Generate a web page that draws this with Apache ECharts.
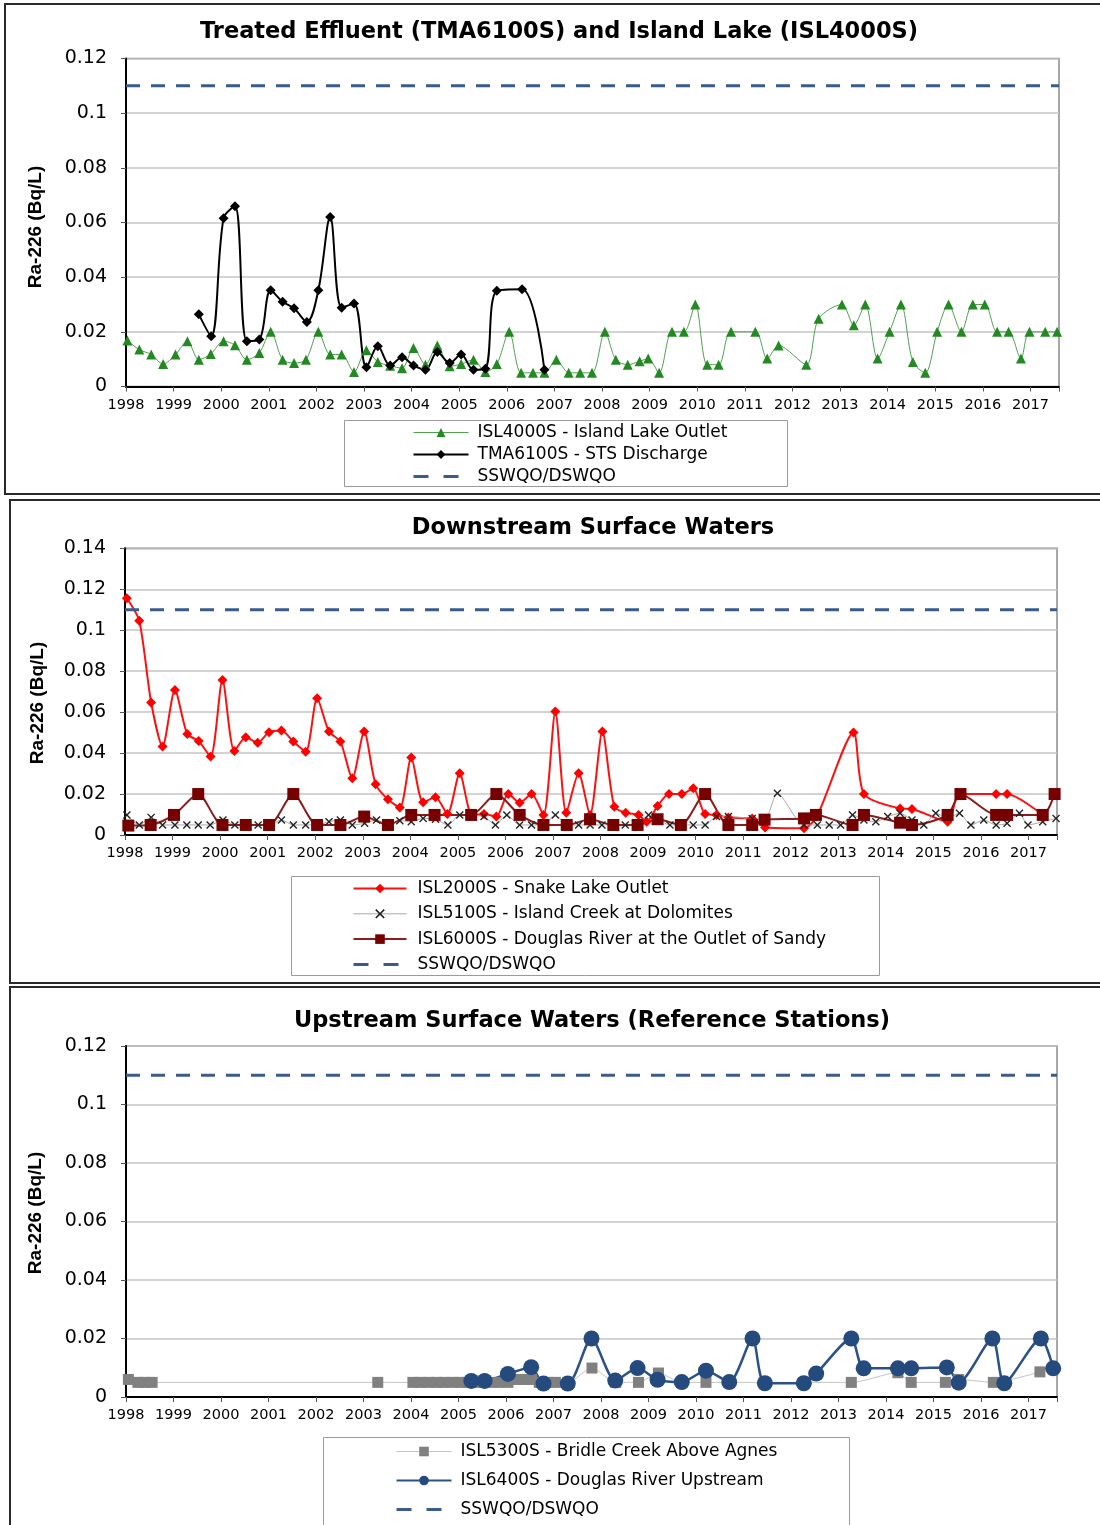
<!DOCTYPE html>
<html>
<head>
<meta charset="utf-8">
<script src="https://cdn.jsdelivr.net/npm/echarts@6/dist/echarts.min.js"></script>
<style>
html,body{margin:0;padding:0;background:#fff;}
#c{width:1100px;height:1525px;}
</style>
</head>
<body>
<div id="c"></div>
<script>
// ---------- data ----------
var xMin = 1998, xMax = 2017.6;
var guideline = 0.11;
var guideSeries = [[1998, guideline], [2017.6, guideline]];

var titles = [
  'Treated Effluent (TMA6100S) and Island Lake (ISL4000S)',
  'Downstream Surface Waters',
  'Upstream Surface Waters (Reference Stations)'
];
var yName = 'Ra-226 (Bq/L)';
var nameGuide = 'SSWQO/DSWQO';
var name4000 = 'ISL4000S - Island Lake Outlet';
var name6100 = 'TMA6100S - STS Discharge';
var name2000 = 'ISL2000S - Snake Lake Outlet';
var name5100 = 'ISL5100S - Island Creek at Dolomites';
var name6000 = 'ISL6000S - Douglas River at the Outlet of Sandy';
var name5300 = 'ISL5300S - Bridle Creek Above Agnes';
var name6400 = 'ISL6400S - Douglas River Upstream';

var isl4000 = [[1998.03,0.0168],[1998.28,0.0135],[1998.53,0.0117],[1998.78,0.0082],[1999.04,0.0117],[1999.29,0.0166],[1999.53,0.0098],[1999.78,0.0119],[2000.05,0.0166],[2000.29,0.0151],[2000.54,0.0098],[2000.80,0.0123],[2001.04,0.020],[2001.29,0.0098],[2001.53,0.0086],[2001.78,0.0098],[2002.04,0.020],[2002.29,0.0117],[2002.53,0.0117],[2002.79,0.0053],[2003.05,0.0133],[2003.29,0.009],[2003.55,0.0076],[2003.80,0.0067],[2004.04,0.0141],[2004.29,0.008],[2004.54,0.015],[2004.80,0.0074],[2005.04,0.0082],[2005.30,0.0098],[2005.55,0.0053],[2005.79,0.0082],[2006.05,0.020],[2006.30,0.005],[2006.55,0.005],[2006.79,0.005],[2007.04,0.0098],[2007.30,0.005],[2007.54,0.005],[2007.79,0.005],[2008.06,0.020],[2008.29,0.0098],[2008.54,0.008],[2008.79,0.0092],[2008.97,0.0102],[2009.20,0.005],[2009.47,0.020],[2009.72,0.020],[2009.96,0.030],[2010.21,0.008],[2010.45,0.008],[2010.71,0.020],[2011.22,0.020],[2011.47,0.0102],[2011.71,0.015],[2012.29,0.008],[2012.55,0.0248],[2013.04,0.030],[2013.29,0.0224],[2013.53,0.030],[2013.79,0.0102],[2014.04,0.020],[2014.28,0.030],[2014.53,0.009],[2014.79,0.005],[2015.04,0.020],[2015.28,0.030],[2015.55,0.020],[2015.79,0.030],[2016.04,0.030],[2016.30,0.020],[2016.54,0.020],[2016.80,0.0102],[2016.98,0.020],[2017.31,0.020],[2017.56,0.020]];

var tma6100 = [[1999.53,0.0264],[1999.79,0.0184],[2000.05,0.0616],[2000.29,0.0659],[2000.54,0.0166],[2000.80,0.0172],[2001.04,0.0352],[2001.29,0.031],[2001.53,0.0286],[2001.80,0.0236],[2002.04,0.0352],[2002.29,0.062],[2002.53,0.0288],[2002.79,0.0304],[2003.05,0.007],[2003.29,0.0147],[2003.55,0.0077],[2003.80,0.0107],[2004.04,0.0077],[2004.29,0.0061],[2004.54,0.0126],[2004.80,0.0086],[2005.04,0.0117],[2005.30,0.0061],[2005.55,0.0065],[2005.79,0.035],[2006.32,0.0356],[2006.79,0.0061]];

var isl2000 = [[1998.04,0.1156],[1998.30,0.1046],[1998.55,0.0647],[1998.79,0.0432],[1999.05,0.0708],[1999.31,0.0493],[1999.55,0.0459],[1999.80,0.0383],[2000.05,0.0757],[2000.30,0.041],[2000.54,0.0477],[2000.79,0.0451],[2001.03,0.0502],[2001.29,0.051],[2001.54,0.0456],[2001.80,0.0407],[2002.04,0.0668],[2002.29,0.0505],[2002.53,0.0456],[2002.78,0.0277],[2003.03,0.0505],[2003.27,0.0248],[2003.53,0.0174],[2003.78,0.0134],[2004.02,0.0378],[2004.27,0.016],[2004.53,0.0184],[2004.78,0.0103],[2005.04,0.0301],[2005.30,0.0098],[2005.55,0.0103],[2005.81,0.009],[2006.06,0.020],[2006.30,0.0158],[2006.55,0.020],[2006.80,0.0098],[2007.05,0.0603],[2007.28,0.0109],[2007.54,0.0301],[2007.78,0.0098],[2008.04,0.0505],[2008.29,0.0138],[2008.53,0.0109],[2008.80,0.0098],[2008.97,0.0065],[2009.20,0.0142],[2009.44,0.020],[2009.71,0.020],[2009.95,0.0228],[2010.20,0.0103],[2010.44,0.0098],[2010.69,0.0085],[2011.19,0.0081],[2011.46,0.0037],[2012.28,0.0033],[2012.55,0.009],[2013.32,0.050],[2013.54,0.020],[2014.30,0.013],[2014.55,0.0127],[2015.30,0.0065],[2015.55,0.020],[2016.32,0.020],[2016.55,0.020],[2017.30,0.0098]];

var isl5100 = [[1998.04,0.0098],[1998.30,0.0049],[1998.55,0.0086],[1998.79,0.0049],[1999.05,0.0049],[1999.30,0.0049],[1999.54,0.0049],[1999.79,0.0049],[2000.06,0.0073],[2000.31,0.0049],[2000.56,0.0049],[2000.80,0.0049],[2001.03,0.0049],[2001.29,0.0073],[2001.54,0.0049],[2001.80,0.0049],[2002.04,0.0049],[2002.29,0.0065],[2002.53,0.0073],[2002.78,0.0049],[2003.04,0.0057],[2003.29,0.0073],[2003.53,0.0049],[2003.78,0.007],[2004.02,0.0065],[2004.27,0.0081],[2004.53,0.0077],[2004.79,0.0049],[2005.04,0.0098],[2005.55,0.009],[2005.79,0.0049],[2006.03,0.0098],[2006.30,0.0049],[2006.55,0.0049],[2006.80,0.0049],[2007.05,0.0098],[2007.30,0.0049],[2007.54,0.0049],[2007.78,0.0049],[2008.03,0.0049],[2008.29,0.0049],[2008.52,0.0049],[2008.78,0.0049],[2009.01,0.0098],[2009.20,0.0077],[2009.46,0.0049],[2009.71,0.0049],[2009.95,0.0049],[2010.20,0.0049],[2010.44,0.009],[2010.69,0.009],[2011.19,0.008],[2011.45,0.0073],[2011.72,0.0204],[2012.28,0.0049],[2012.56,0.0049],[2012.81,0.0049],[2013.05,0.0049],[2013.30,0.0098],[2013.54,0.0073],[2013.79,0.0065],[2014.04,0.009],[2014.30,0.0106],[2014.55,0.0073],[2014.80,0.0049],[2015.05,0.0106],[2015.30,0.0085],[2015.55,0.0106],[2015.79,0.0049],[2016.06,0.0073],[2016.32,0.0049],[2016.55,0.0057],[2016.81,0.0106],[2016.99,0.0049],[2017.30,0.0065],[2017.58,0.0081]];

var isl6000 = [[1998.07,0.0046],[1998.54,0.0049],[1999.03,0.0098],[1999.54,0.020],[2000.05,0.0049],[2000.54,0.0049],[2001.03,0.0049],[2001.54,0.020],[2002.04,0.0049],[2002.53,0.0049],[2003.03,0.009],[2003.53,0.0049],[2004.02,0.0098],[2004.51,0.0098],[2005.28,0.0098],[2005.81,0.020],[2006.30,0.0098],[2006.80,0.0049],[2007.29,0.0049],[2007.78,0.0077],[2008.27,0.0049],[2008.78,0.0049],[2009.20,0.0077],[2009.69,0.0049],[2010.20,0.020],[2010.69,0.0049],[2011.19,0.0049],[2011.45,0.0075],[2012.28,0.0081],[2012.53,0.0098],[2013.30,0.0049],[2013.54,0.0098],[2014.30,0.006],[2014.55,0.0049],[2015.30,0.0098],[2015.57,0.020],[2016.32,0.0098],[2016.55,0.0098],[2017.30,0.0098],[2017.55,0.020]];

var isl5300 = [[1998.05,0.006],[1998.25,0.005],[1998.40,0.005],[1998.55,0.005],[2003.30,0.005],[2004.04,0.005],[2004.20,0.005],[2004.37,0.005],[2004.54,0.005],[2004.70,0.005],[2004.87,0.005],[2005.04,0.005],[2005.20,0.005],[2005.37,0.005],[2005.54,0.005],[2005.70,0.005],[2005.87,0.005],[2006.04,0.005],[2006.20,0.006],[2006.37,0.006],[2006.54,0.006],[2006.70,0.005],[2006.87,0.005],[2007.04,0.005],[2007.30,0.005],[2007.81,0.0099],[2008.31,0.005],[2008.79,0.005],[2009.21,0.0082],[2009.70,0.005],[2010.21,0.005],[2010.70,0.005],[2011.45,0.005],[2012.27,0.005],[2013.27,0.005],[2014.25,0.0083],[2014.53,0.005],[2015.25,0.005],[2015.53,0.006],[2016.26,0.005],[2017.24,0.0086]];

var isl6400 = [[2005.27,0.0055],[2005.55,0.0055],[2006.04,0.0079],[2006.53,0.0102],[2006.79,0.0046],[2007.30,0.0046],[2007.80,0.020],[2008.30,0.0056],[2008.77,0.0099],[2009.19,0.0059],[2009.70,0.0051],[2010.21,0.009],[2010.70,0.0051],[2011.19,0.020],[2011.45,0.0047],[2012.27,0.0047],[2012.53,0.008],[2013.27,0.020],[2013.53,0.0098],[2014.25,0.0098],[2014.53,0.0098],[2015.28,0.0101],[2015.53,0.0049],[2016.24,0.020],[2016.49,0.0047],[2017.26,0.020],[2017.52,0.0098]];

// ---------- styling ----------
var FONT = '"DejaVu Sans", Verdana, sans-serif';
var crossPath = 'path://M0,1.2 L1.2,0 L5,3.8 L8.8,0 L10,1.2 L6.2,5 L10,8.8 L8.8,10 L5,6.2 L1.2,10 L0,8.8 L3.8,5 Z';
var guideColor = '#3b5b8c';

function xAxisFor(i){
  return {
    type:'value', gridIndex:i, min:xMin, max:xMax, interval:1,
    axisLine:{show:true, onZero:false, lineStyle:{color:'#000', width:2}},
    axisTick:{show:true, length:5, lineStyle:{color:'#555', width:1}},
    axisLabel:{color:'#000', fontFamily:FONT, fontSize:14.5, margin:11,
      formatter:function(v){ return (Math.abs(v - Math.round(v))<1e-6) ? String(Math.round(v)) : ''; }},
    splitLine:{show:false}
  };
}
function yAxisFor(i, max){
  return {
    type:'value', gridIndex:i, min:0, max:max, interval:0.02,
    axisLine:{show:true, lineStyle:{color:'#000', width:2}},
    axisTick:{show:true, length:5, lineStyle:{color:'#555', width:1}},
    axisLabel:{color:'#000', fontFamily:FONT, fontSize:19, margin:19,
      formatter:function(v){ return String(parseFloat(v.toFixed(4))); }},
    splitLine:{show:true, lineStyle:{color:'#c4c4c4', width:1.5}}
  };
}
function guide(i){
  return {name:nameGuide, type:'line', xAxisIndex:i, yAxisIndex:i, data:guideSeries,
    symbol:'none', silent:true, color:guideColor,
    lineStyle:{color:guideColor, width:3, type:[14,11]}, z:5};
}
var guideLegendItem = {name:nameGuide, itemStyle:{opacity:0}, lineStyle:{width:3, type:[15,15]}};
var legendText = {fontFamily:FONT, fontSize:17, color:'#000', padding:[0,0,0,4]};

var gridBorder = '#8a8a8a';
var option = {
  animation:false,
  backgroundColor:'#fff',
  grid:[
    {left:126, top:58.5, width:933, height:328, show:true, borderColor:gridBorder, borderWidth:1.5, backgroundColor:'#fff'},
    {left:125, top:548.3, width:932, height:286.7, show:true, borderColor:gridBorder, borderWidth:1.5, backgroundColor:'#fff'},
    {left:126, top:1046, width:931, height:351, show:true, borderColor:gridBorder, borderWidth:1.5, backgroundColor:'#fff'}
  ],
  xAxis:[xAxisFor(0), xAxisFor(1), xAxisFor(2)],
  yAxis:[yAxisFor(0,0.12), yAxisFor(1,0.14), yAxisFor(2,0.12)],
  legend:[
    {left:412, top:424, width:400, height:80, orient:'vertical', padding:0, itemWidth:55, itemHeight:11, itemGap:5,
     textStyle:legendText,
     data:[{name:name4000, lineStyle:{width:1}}, {name:name6100, lineStyle:{width:2}}, guideLegendItem]},
    {left:352, top:880, width:520, height:110, orient:'vertical', padding:0, itemWidth:53, itemHeight:12, itemGap:8.3,
     textStyle:{fontFamily:FONT, fontSize:17, color:'#000', padding:[0,0,0,6]},
     data:[{name:name2000, lineStyle:{width:2}}, {name:name5100, lineStyle:{width:1}}, {name:name6000, lineStyle:{width:2}}, guideLegendItem]},
    {left:395, top:1443, width:440, height:120, orient:'vertical', padding:0, itemWidth:55, itemHeight:12, itemGap:12,
     textStyle:legendText,
     data:[{name:name5300, lineStyle:{width:1}}, {name:name6400, lineStyle:{width:2}}, guideLegendItem]}
  ],
  series:[
    {name:name4000, type:'line', xAxisIndex:0, yAxisIndex:0, data:isl4000, smooth:0.3,
     symbol:'triangle', symbolSize:10, color:'#238a23',
     lineStyle:{color:'#4f9f4f', width:1}, itemStyle:{color:'#238a23'}},
    {name:name6100, type:'line', xAxisIndex:0, yAxisIndex:0, data:tma6100, smooth:0.35,
     symbol:'diamond', symbolSize:10, color:'#000',
     lineStyle:{color:'#000', width:2}, itemStyle:{color:'#000'}},
    guide(0),

    {name:name2000, type:'line', xAxisIndex:1, yAxisIndex:1, data:isl2000, smooth:0.25,
     symbol:'diamond', symbolSize:10, color:'#ff0000',
     lineStyle:{color:'#ff1010', width:2}, itemStyle:{color:'#ff0000'}},
    {name:name5100, type:'line', xAxisIndex:1, yAxisIndex:1, data:isl5100, smooth:0.25,
     symbol:crossPath, symbolSize:8, color:'#222',
     lineStyle:{color:'#a8a8a8', width:1}, itemStyle:{color:'#222'}},
    {name:name6000, type:'line', xAxisIndex:1, yAxisIndex:1, data:isl6000, smooth:0.25,
     symbol:'rect', symbolSize:12, color:'#760000',
     lineStyle:{color:'#8b1c1c', width:2}, itemStyle:{color:'#760000'}},
    guide(1),

    {name:name5300, type:'line', xAxisIndex:2, yAxisIndex:2, data:isl5300, smooth:0.25,
     symbol:'rect', symbolSize:11, color:'#808080',
     lineStyle:{color:'#c4c4c4', width:1}, itemStyle:{color:'#808080'}},
    {name:name6400, type:'line', xAxisIndex:2, yAxisIndex:2, data:isl6400, smooth:0.25,
     symbol:'circle', symbolSize:16, color:'#254a7d',
     lineStyle:{color:'#2c5189', width:2.5}, itemStyle:{color:'#254a7d'}},
    guide(2)
  ],
  graphic:[
    // panel frames
    {type:'rect', shape:{x:5, y:4, width:1110, height:490}, style:{fill:'none', stroke:'#2a2a2a', lineWidth:2}, silent:true},
    {type:'rect', shape:{x:10, y:500, width:1110, height:483}, style:{fill:'none', stroke:'#2a2a2a', lineWidth:2}, silent:true},
    {type:'rect', shape:{x:10, y:987, width:1110, height:560}, style:{fill:'none', stroke:'#2a2a2a', lineWidth:2}, silent:true},
    // legend boxes
    {type:'rect', shape:{x:344.5, y:420.5, width:443, height:66}, style:{fill:'none', stroke:'#9a9a9a', lineWidth:1}, silent:true},
    {type:'rect', shape:{x:291.5, y:876.5, width:588, height:99}, style:{fill:'none', stroke:'#9a9a9a', lineWidth:1}, silent:true},
    {type:'rect', shape:{x:323.5, y:1437.5, width:526, height:100}, style:{fill:'none', stroke:'#9a9a9a', lineWidth:1}, silent:true},
    // titles
    {type:'text', x:559, y:32, silent:true, style:{text:titles[0], font:'bold 22.5px ' + FONT, fill:'#000', align:'center', verticalAlign:'middle', textAlign:'center', textVerticalAlign:'middle'}},
    {type:'text', x:593, y:528, silent:true, style:{text:titles[1], font:'bold 22.5px ' + FONT, fill:'#000', align:'center', verticalAlign:'middle', textAlign:'center', textVerticalAlign:'middle'}},
    {type:'text', x:592, y:1021, silent:true, style:{text:titles[2], font:'bold 22.5px ' + FONT, fill:'#000', align:'center', verticalAlign:'middle', textAlign:'center', textVerticalAlign:'middle'}},
    // y axis names
    {type:'text', x:36, y:227, rotation:Math.PI/2, silent:true, style:{text:yName, font:'bold 19px "Liberation Sans", Arial, sans-serif', fill:'#000', align:'center', verticalAlign:'middle', textAlign:'center', textVerticalAlign:'middle'}},
    {type:'text', x:38, y:703, rotation:Math.PI/2, silent:true, style:{text:yName, font:'bold 19px "Liberation Sans", Arial, sans-serif', fill:'#000', align:'center', verticalAlign:'middle', textAlign:'center', textVerticalAlign:'middle'}},
    {type:'text', x:36, y:1213, rotation:Math.PI/2, silent:true, style:{text:yName, font:'bold 19px "Liberation Sans", Arial, sans-serif', fill:'#000', align:'center', verticalAlign:'middle', textAlign:'center', textVerticalAlign:'middle'}}
  ]
};

var chart = echarts.init(document.getElementById('c'), null, {renderer:'canvas'});
chart.setOption(option);
</script>
</body>
</html>
